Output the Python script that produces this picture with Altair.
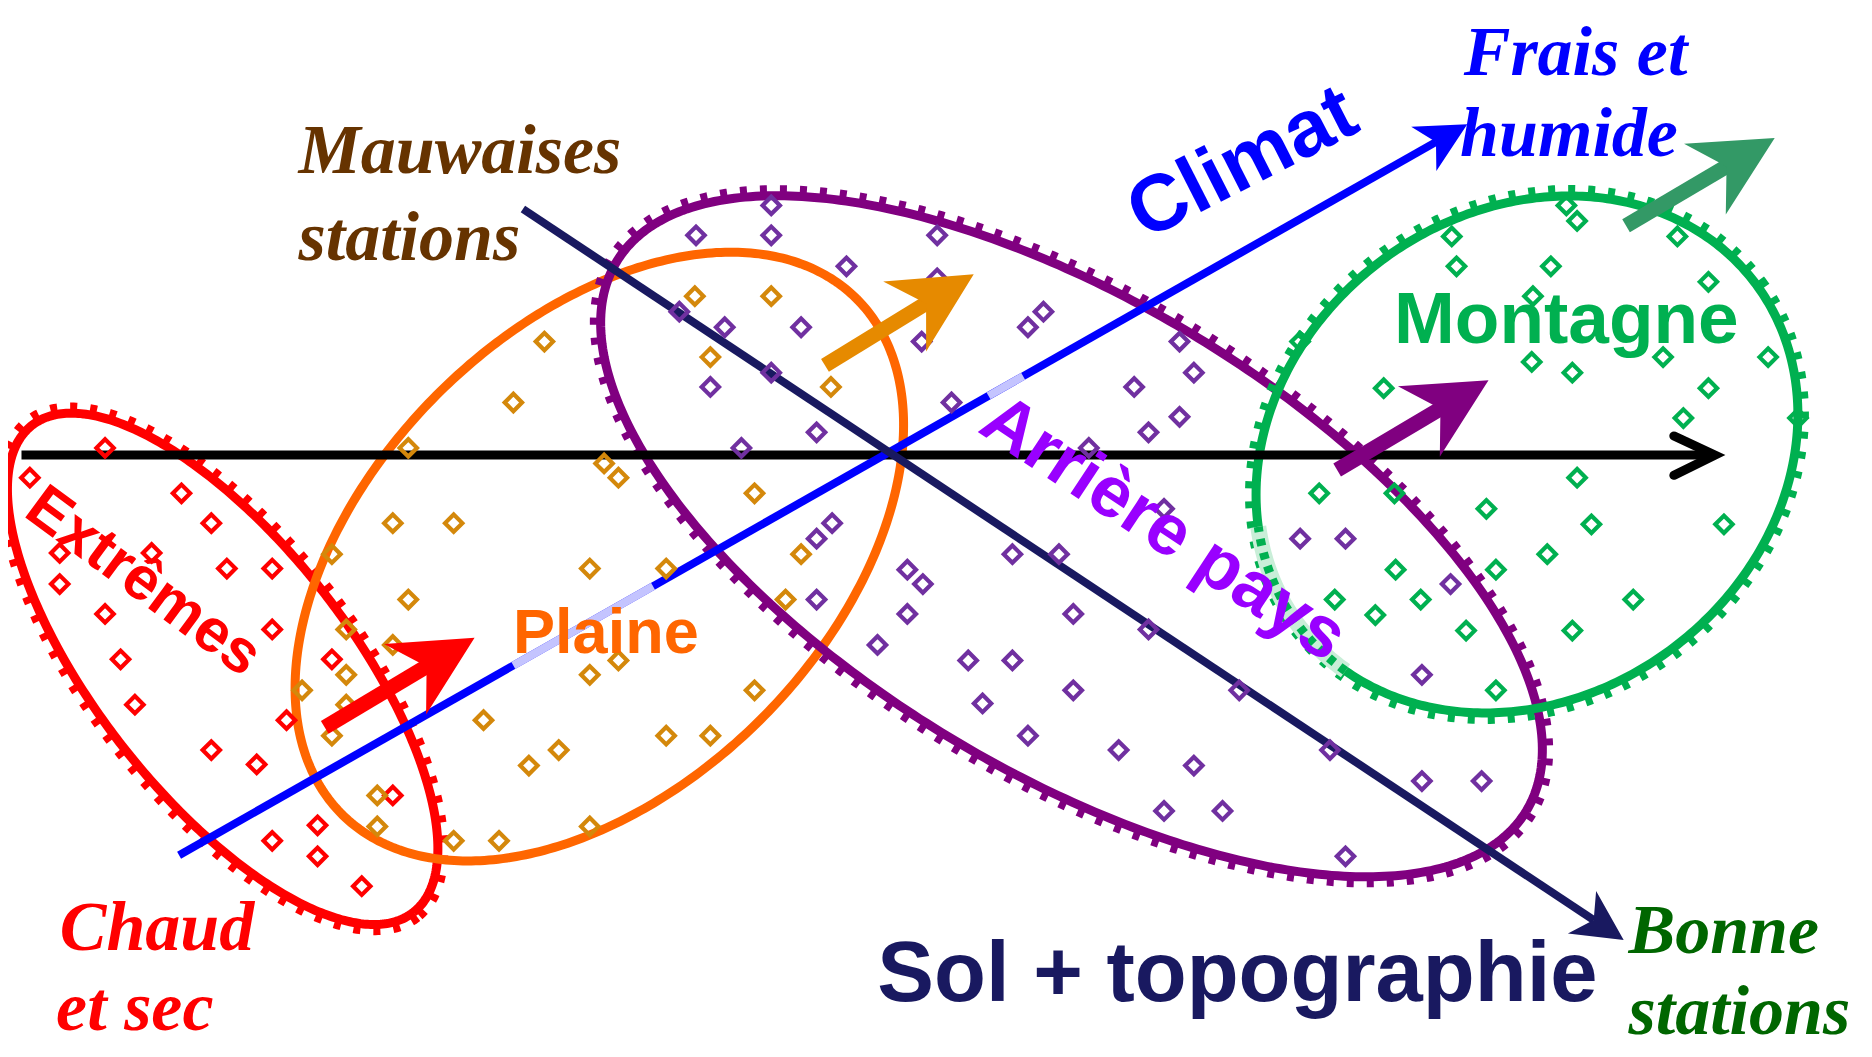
import numpy as np
import pandas as pd
import altair as alt

# ---------------- data (1568 x 885 reading grid) ----------------
# ellipses (groups)
ell_name = ["Extrêmes", "Plaine", "Arrière pays", "Montagne"]
ell_cx = [186.5, 502.0, 897.5, 1279.0]
ell_cy = [560.0, 466.0, 449.0, 380.5]
ell_a = [259.0, 305.0, 445.0, 239.0]
ell_b = [106.0, 192.0, 197.0, 203.0]
ell_rot = [51.9, -45.0, 31.1, -36.5]
ell_color = ["#ff0000", "#ff6600", "#800080", "#00b050"]
ell_ticks = [True, False, True, True]
# faded (behind-label) stretch of the Montagne outline: y range on its left side
fade_y0, fade_y1 = 440, 562

# stations (diamonds)
red_x = [88, 25, 152, 177, 50, 127, 190, 228, 50, 88, 228, 101, 278, 113, 240, 177, 215, 329, 266, 228, 266, 303]
red_y = [375, 400, 413, 438, 463, 463, 476, 476, 489, 514, 527, 552, 552, 590, 603, 628, 640, 666, 691, 704, 717, 742]

orange_x = [456, 430, 342, 506, 518, 329, 380, 278, 494, 342, 290, 329, 518, 290, 494, 253, 290, 278, 405, 468,
            443, 316, 316, 380, 418, 494, 582, 646, 595, 696, 632, 671, 558, 658, 632, 558, 595]
orange_y = [286, 337, 375, 388, 400, 438, 438, 464, 476, 502, 527, 540, 553, 565, 565, 578, 590, 616, 603, 628,
            641, 666, 692, 704, 704, 692, 248, 248, 299, 324, 413, 464, 476, 502, 578, 616, 616]

purple_x = [646, 583, 646, 785, 709, 785, 772, 874, 861, 569, 607, 671, 988, 1000, 646, 595, 950, 797, 988, 962,
            684, 621, 912, 975, 697, 684, 848, 887, 760, 773, 684, 760, 899, 962, 735, 811, 848, 899, 823, 861,
            937, 1000, 975, 1024, 1089, 1127, 1215, 1191, 1038, 1114, 1191, 1241, 1127]
purple_y = [172, 197, 197, 197, 223, 233, 286, 261, 274, 261, 274, 274, 286, 312, 312, 324, 324, 337, 349, 362,
            362, 375, 375, 426, 438, 451, 464, 464, 477, 489, 502, 514, 514, 527, 540, 553, 553, 578, 589, 616,
            628, 641, 679, 679, 451, 451, 489, 565, 578, 628, 654, 654, 717]

green_x = [1312, 1321, 1216, 1405, 1220, 1299, 1431, 1284, 1089, 1283, 1317, 1393, 1481, 1159, 1431, 1410, 1506,
           1321, 1105, 1168, 1245, 1333, 1444, 1296, 1169, 1253, 1118, 1190, 1368, 1152, 1228, 1317, 1253]
green_y = [172, 185, 198, 198, 223, 223, 236, 248, 286, 303, 312, 299, 299, 325, 325, 350, 350,
           400, 413, 413, 426, 439, 439, 464, 477, 477, 502, 502, 502, 515, 528, 528, 578]

# axes of the diagram: start and tip
axis_name = ["Climat", "Sol + topographie"]
axis_x0 = [150, 438]
axis_y0 = [716, 175]
axis_x1 = [1229, 1360]
axis_y1 = [104, 787]
axis_color = ["#0000ff", "#191960"]
# faded parts of the Climat axis (x ranges)
halo_x0 = [430, 828]
halo_x1 = [547, 857]

# horizontal black axis
h_x0, h_x1, h_y = 18, 1436, 381
chev_x = [1402, 1436.5, 1402]
chev_y = [365, 381, 398]

# group arrows: start and tip
arr_x0 = [272, 691, 1120, 1362]
arr_y0 = [609, 306, 393.5, 189]
arr_x1 = [397.5, 815.6, 1246.8, 1486.5]
arr_y1 = [534, 229.6, 318.3, 115.6]
arr_color = ["#ff0000", "#e68a00", "#800080", "#339966"]

# texts
script_text = ["Mauwaises", "stations", "Frais et", "humide", "Chaud", "et sec", "Bonne", "stations"]
script_x = [250, 250, 1226, 1223, 50, 47, 1364, 1364]
script_y = [145, 218, 63, 131, 795, 862, 798, 866]
script_color = ["#663300", "#663300", "#0000ff", "#0000ff", "#ff0000", "#ff0000", "#006600", "#006600"]

bold_text = ["Climat", "Montagne", "Plaine", "Extrêmes", "Arrière pays", "Sol + topographie"]
bold_x = [1050, 1312, 507.5, 111, 964.5, 1036.5]
bold_y = [155, 287, 547, 499.5, 458, 838]
bold_angle = [333, 0, 0, 36.4, 33.5, 0]
bold_size = [80, 73, 63, 61, 72, 85]
bold_color = ["#0000ff", "#00b050", "#ff6600", "#ff0000", "#9900ff", "#191960"]

# ---------------- scales: picture grid -> page pixels ----------------
XS = alt.Scale(domain=[6.70, 1561.3], nice=False, zero=False)
YS = alt.Scale(domain=[6.70, 878.3], nice=False, zero=False, reverse=True)


def X(f="x"):
    return alt.X(f"{f}:Q", scale=XS, axis=None)


def Y(f="y"):
    return alt.Y(f"{f}:Q", scale=YS, axis=None)


def outline(cx, cy, a, b, rot, n=400):
    t = np.linspace(0, 2 * np.pi, n)
    r = np.radians(rot)
    return pd.DataFrame({
        "x": cx + a * np.cos(t) * np.cos(r) - b * np.sin(t) * np.sin(r),
        "y": cy + a * np.cos(t) * np.sin(r) + b * np.sin(t) * np.cos(r),
        "i": np.arange(n),
    })


layers = []

# ellipses
for k, (cx, cy, a, b, rot, col, tk) in enumerate(zip(ell_cx, ell_cy, ell_a, ell_b, ell_rot, ell_color, ell_ticks)):
    for grow, width, dash in ([(5.5, 9, [7, 13])] if tk else []) + [(0.0, 9, None)]:
        df = outline(cx, cy, a + grow, b + grow, rot)
        kw = dict(color=col, strokeWidth=width, strokeCap="butt")
        if dash:
            kw["strokeDash"] = dash
        layers.append(alt.Chart(df).mark_line(**kw).encode(x=X(), y=Y(), order="i:Q"))
    if ell_name[k] == "Montagne":
        df = outline(cx, cy, a, b, rot)
        seg = df[(df.x < cx) & (df.y > fade_y0) & (df.y < fade_y1)]
        layers.append(alt.Chart(seg).mark_line(color="#c9eed8", strokeWidth=16, strokeCap="butt")
                      .encode(x=X(), y=Y(), order="i:Q"))
        layers.append(alt.Chart(seg).mark_line(color=col, strokeWidth=9, strokeCap="butt", strokeDash=[7, 7])
                      .encode(x=X(), y=Y(), order="i:Q"))

# horizontal black axis
layers.append(alt.Chart(pd.DataFrame({"x": [h_x0], "y": [h_y], "x2": [h_x1 - 2], "y2": [h_y]}))
              .mark_rule(color="black", strokeWidth=9).encode(x=X(), y=Y(), x2="x2:Q", y2="y2:Q"))
layers.append(alt.Chart(pd.DataFrame({"x": chev_x, "y": chev_y, "i": [0, 1, 2]}))
              .mark_line(color="black", strokeWidth=9, strokeCap="round", strokeJoin="miter")
              .encode(x=X(), y=Y(), order="i:Q"))

# thin axes with stealth heads
thin_head = "M0,0L-1,-0.51L-0.72,0L-1,0.51Z"
for x0, y0, x1, y1, col in zip(axis_x0, axis_y0, axis_x1, axis_y1, axis_color):
    d = np.hypot(x1 - x0, y1 - y0)
    ux, uy = (x1 - x0) / d, (y1 - y0) / d
    ang = float(np.degrees(np.arctan2(y1 - y0, x1 - x0)) % 360)
    layers.append(alt.Chart(pd.DataFrame({"x": [x0], "y": [y0], "x2": [x1 - 30 * ux], "y2": [y1 - 30 * uy]}))
                  .mark_rule(color=col, strokeWidth=8, strokeCap="butt")
                  .encode(x=X(), y=Y(), x2="x2:Q", y2="y2:Q"))
    layers.append(alt.Chart(pd.DataFrame({"x": [x1], "y": [y1]}))
                  .mark_point(shape=thin_head, filled=True, color=col, opacity=1, size=10000,
                              angle=ang, strokeWidth=0)
                  .encode(x=X(), y=Y()))

# faded parts of the Climat axis
sx = (axis_y1[0] - axis_y0[0]) / (axis_x1[0] - axis_x0[0])
hdf = pd.DataFrame({
    "x": halo_x0, "x2": halo_x1,
    "y": [axis_y0[0] + (v - axis_x0[0]) * sx for v in halo_x0],
    "y2": [axis_y0[0] + (v - axis_x0[0]) * sx for v in halo_x1],
})
layers.append(alt.Chart(hdf).mark_rule(color="#c4c4ff", strokeWidth=8, strokeCap="butt")
              .encode(x=X(), y=Y(), x2="x2:Q", y2="y2:Q"))

# stations
for xs_, ys_, col in [(red_x, red_y, "#ff0000"), (orange_x, orange_y, "#d4880b"),
                      (purple_x, purple_y, "#7030a0"), (green_x, green_y, "#00b050")]:
    layers.append(alt.Chart(pd.DataFrame({"x": xs_, "y": ys_}))
                  .mark_point(shape="diamond", filled=False, color=col, size=300, strokeWidth=4.2, opacity=1)
                  .encode(x=X(), y=Y()))

# group arrows
big_head = "M0,0L-1,-0.507L-0.69,0L-1,0.507Z"
for x0, y0, x1, y1, col in zip(arr_x0, arr_y0, arr_x1, arr_y1, arr_color):
    d = np.hypot(x1 - x0, y1 - y0)
    ux, uy = (x1 - x0) / d, (y1 - y0) / d
    ang = float(np.degrees(np.arctan2(y1 - y0, x1 - x0)) % 360)
    layers.append(alt.Chart(pd.DataFrame({"x": [x0], "y": [y0], "x2": [x1 - 44 * ux], "y2": [y1 - 44 * uy]}))
                  .mark_rule(color=col, strokeWidth=15, strokeCap="butt")
                  .encode(x=X(), y=Y(), x2="x2:Q", y2="y2:Q"))
    layers.append(alt.Chart(pd.DataFrame({"x": [x1], "y": [y1]}))
                  .mark_point(shape=big_head, filled=True, color=col, opacity=1, size=26244,
                              angle=ang, strokeWidth=0)
                  .encode(x=X(), y=Y()))

# script labels
sdf = pd.DataFrame({"t": script_text, "x": script_x, "y": script_y, "c": script_color})
layers.append(alt.Chart(sdf).mark_text(font="Liberation Serif", fontStyle="italic", fontWeight="bold",
                                       fontSize=70, align="left", baseline="alphabetic")
              .encode(x=X(), y=Y(), text="t:N", color=alt.Color("c:N", scale=None)))

# bold labels
bdf = pd.DataFrame({"t": bold_text, "x": bold_x, "y": bold_y, "a": bold_angle, "s": bold_size, "c": bold_color})
layers.append(alt.Chart(bdf).mark_text(font="Liberation Sans", fontWeight="bold",
                                       align="center", baseline="alphabetic")
              .encode(x=X(), y=Y(), text="t:N", color=alt.Color("c:N", scale=None),
                      angle=alt.Angle("a:Q", scale=None), size=alt.Size("s:Q", scale=None)))

chart = (alt.layer(*layers)
         .properties(width=1856, height=1041, padding=0, autosize=alt.AutoSizeParams(type="none"),
                     background="white")
         .configure_view(strokeWidth=0))

chart.save("out.html", embed_options={"renderer": "svg", "actions": False})
